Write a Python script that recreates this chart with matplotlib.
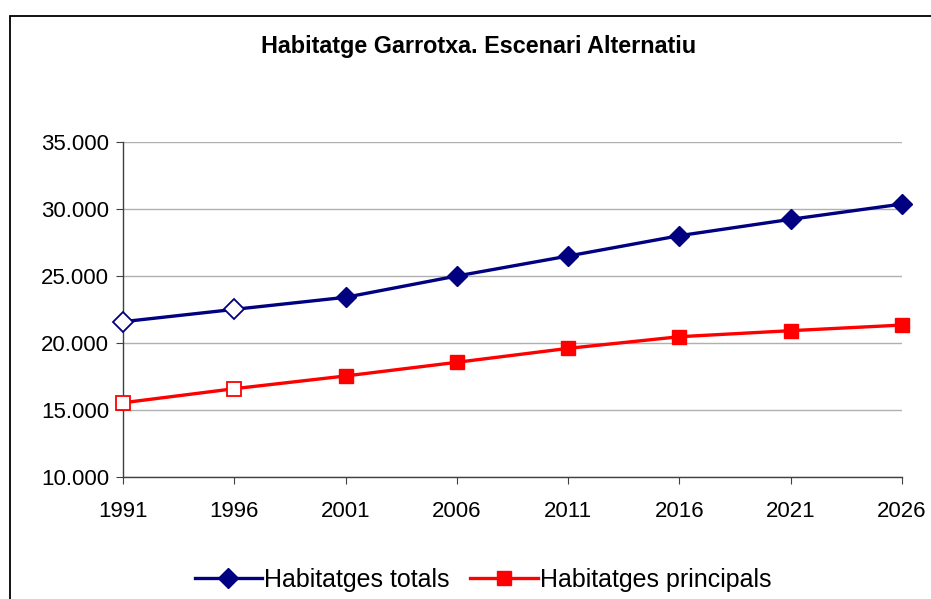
#!/usr/bin/env python3
"""Habitatge Garrotxa - escenari alternatiu (totals vs principals)."""

import matplotlib
matplotlib.use("Agg")
import matplotlib.pyplot as plt
from matplotlib.patches import Rectangle
from matplotlib.ticker import FuncFormatter

YEARS = [1991, 1996, 2001, 2006, 2011, 2016, 2021, 2026]
TOTALS = [21590, 22510, 23410, 25000, 26490, 28010, 29230, 30370]
PRINCIPALS = [15540, 16590, 17540, 18560, 19600, 20470, 20920, 21340]
N_HOLLOW = 2  # first points drawn with open markers

COLOR_TOT = "#000080"
COLOR_PRI = "#ff0000"

plt.rcParams["font.family"] = ["Liberation Sans", "DejaVu Sans"]

W, H = 931, 599
fig = plt.figure(figsize=(W / 100, H / 100), dpi=100)

# outer chart frame (runs off the right and bottom edges)
fig.patches.append(Rectangle((10 / W, 1 - 600 / H), 960 / W, (600 - 16) / H,
                             transform=fig.transFigure, fill=False,
                             edgecolor="black", linewidth=1.3))

ax = fig.add_axes([123 / W, (H - 477) / H, (902 - 123) / W, (477 - 142) / H])

for vals, col, mk, ms, lab in [(TOTALS, COLOR_TOT, "D", 10, "Habitatges totals"),
                               (PRINCIPALS, COLOR_PRI, "s", 10.5, "Habitatges principals")]:
    ax.plot(YEARS, vals, color=col, linewidth=2.4, marker=mk, markersize=ms,
            markevery=list(range(N_HOLLOW, len(YEARS))), label=lab,
            clip_on=False, zorder=3)
    ax.plot(YEARS[:N_HOLLOW], vals[:N_HOLLOW], linestyle="none", marker=mk,
            markersize=ms, markerfacecolor="white", markeredgecolor=col,
            markeredgewidth=1.3, clip_on=False, zorder=4)

ax.set_xlim(1991, 2026)
ax.set_ylim(10000, 35000)
ax.set_xticks(YEARS)
ax.set_yticks(range(10000, 35001, 5000))
ax.yaxis.set_major_formatter(FuncFormatter(lambda v, p: f"{int(v):,}".replace(",", ".")))
ax.tick_params(axis="both", labelsize=16, length=5, width=0.8, color="#404040")
ax.tick_params(axis="x", pad=12)
ax.tick_params(axis="y", pad=5)
ax.grid(axis="y", color="#b0b0b0", linewidth=1)
ax.set_axisbelow(True)
for s in ("top", "right"):
    ax.spines[s].set_visible(False)
for s in ("left", "bottom"):
    ax.spines[s].set_color("#404040")
    ax.spines[s].set_linewidth(1)

fig.text(479 / W, 1 - 47 / H, "Habitatge Garrotxa. Escenari Alternatiu",
         ha="center", va="center", fontsize=16.8, fontweight="bold")

handles, labels = ax.get_legend_handles_labels()
fig.legend(handles, labels, loc="center", bbox_to_anchor=(483 / W, 1 - 580 / H),
           ncol=2, frameon=False, fontsize=18, handlelength=2.7,
           handletextpad=0.1, columnspacing=0.8)

fig.savefig("out.png", dpi=100)
